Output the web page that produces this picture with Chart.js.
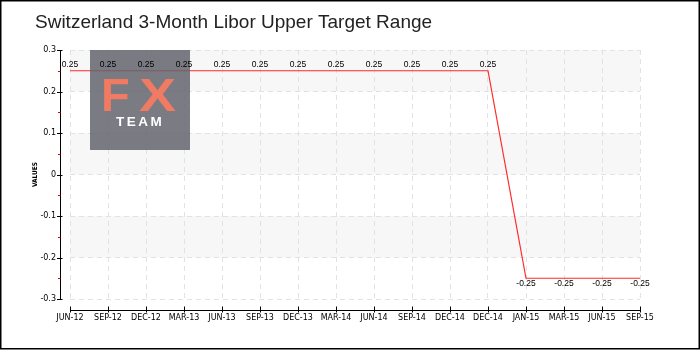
<!DOCTYPE html>
<html>
<head>
<meta charset="utf-8">
<script src="https://cdn.jsdelivr.net/npm/chart.js@4.4.1/dist/chart.umd.min.js"></script>
<style>
  html, body { margin: 0; padding: 0; background: #ffffff; }
  #wrap { width: 700px; height: 350px; position: relative; }
</style>
</head>
<body>
<div id="wrap"><canvas id="chart" width="700" height="350"></canvas></div>
<script>
// Quarterly readings of the 3-month Libor upper target range (percent)
const categories = ['JUN-12', 'SEP-12', 'DEC-12', 'MAR-13', 'JUN-13', 'SEP-13', 'DEC-13', 'MAR-14',
                    'JUN-14', 'SEP-14', 'DEC-14', 'DEC-14', 'JAN-15', 'MAR-15', 'JUN-15', 'SEP-15'];
const rateValues = [0.25, 0.25, 0.25, 0.25, 0.25, 0.25, 0.25, 0.25,
                    0.25, 0.25, 0.25, 0.25, -0.25, -0.25, -0.25, -0.25];
const yTicks = { min: -0.3, max: 0.3, step: 0.1 };

// Alternating horizontal bands and the outer frame, painted under everything
const backdrop = {
  id: 'backdrop',
  beforeDraw(chart) {
    const { ctx, chartArea: a, scales: { y } } = chart;
    ctx.save();
    const ticks = y.ticks.map(t => t.value).sort((p, q) => q - p);
    for (let i = 0; i < ticks.length - 1; i++) {
      if (i % 2 !== 0) continue;
      const top = y.getPixelForValue(ticks[i]);
      const bot = y.getPixelForValue(ticks[i + 1]);
      ctx.fillStyle = '#f7f7f7';
      ctx.fillRect(a.left, top, a.right - a.left, bot - top);
    }
    ctx.strokeStyle = '#000000';
    ctx.lineWidth = 1.5;
    ctx.strokeRect(0.75, 0.75, chart.width - 1.5, chart.height - 2);
    ctx.restore();
  }
};

// Detached axis lines with their tick marks (minor ticks in red)
const axes = {
  id: 'axes',
  afterDraw(chart) {
    const { ctx, chartArea: a, scales: { x, y } } = chart;
    ctx.save();
    ctx.lineWidth = 1;
    ctx.strokeStyle = '#000000';
    const ax = a.left - 9.5;
    ctx.beginPath();
    ctx.moveTo(ax, y.getPixelForValue(yTicks.max));
    ctx.lineTo(ax, y.getPixelForValue(yTicks.min));
    ctx.stroke();
    y.ticks.forEach(t => {
      const py = Math.round(y.getPixelForValue(t.value)) + 0.5;
      ctx.beginPath();
      ctx.moveTo(ax - 3.5, py);
      ctx.lineTo(ax + 2, py);
      ctx.stroke();
    });
    ctx.strokeStyle = '#e00000';
    for (let v = yTicks.min + yTicks.step / 2; v < yTicks.max; v += yTicks.step) {
      const py = Math.round(y.getPixelForValue(v)) + 0.5;
      ctx.beginPath();
      ctx.moveTo(ax - 2.5, py);
      ctx.lineTo(ax, py);
      ctx.stroke();
    }
    ctx.strokeStyle = '#000000';
    const ay = a.bottom + 11.5;
    ctx.beginPath();
    ctx.moveTo(x.getPixelForValue(0), ay);
    ctx.lineTo(x.getPixelForValue(categories.length - 1), ay);
    ctx.stroke();
    categories.forEach((c, i) => {
      const px = Math.round(x.getPixelForValue(i)) + 0.5;
      ctx.beginPath();
      ctx.moveTo(px, ay - 4);
      ctx.lineTo(px, ay + 2);
      ctx.stroke();
    });
    ctx.restore();
  }
};

// Brand badge and the value written at every point
const overlay = {
  id: 'overlay',
  afterDatasetsDraw(chart) {
    const { ctx, chartArea: a } = chart;
    ctx.save();
    const bx = a.left + 20, by = a.top;
    ctx.fillStyle = 'rgba(98, 98, 108, 0.84)';
    ctx.fillRect(bx, by, 100, 100);
    ctx.fillStyle = '#f07a62';
    ctx.font = 'bold 47px "Liberation Sans"';
    ctx.textBaseline = 'alphabetic';
    ctx.textAlign = 'left';
    ctx.fillText('F', bx + 11, by + 61);
    ctx.save();
    ctx.translate(bx + 49, by + 61);
    ctx.scale(1.18, 1);
    ctx.fillText('X', 0, 0);
    ctx.restore();
    ctx.fillStyle = '#ffffff';
    ctx.font = 'bold 13.5px "Liberation Sans"';
    ctx.letterSpacing = '2.5px';
    ctx.fillText('TEAM', bx + 26, by + 76);
    ctx.letterSpacing = '0px';

    const meta = chart.getDatasetMeta(0);
    ctx.fillStyle = '#000000';
    ctx.font = '8.5px "Liberation Sans"';
    ctx.textAlign = 'center';
    ctx.textBaseline = 'middle';
    meta.data.forEach((pt, i) => {
      const v = rateValues[i];
      const ty = v >= 0 ? pt.y - 6 : pt.y + 5;
      ctx.fillText(String(v), pt.x, ty);
    });
    ctx.restore();
  }
};

new Chart(document.getElementById('chart'), {
  type: 'line',
  data: {
    labels: categories,
    datasets: [{
      label: 'Values',
      data: rateValues,
      borderColor: '#ff2a2a',
      borderWidth: 1.2,
      pointRadius: 0,
      tension: 0,
      fill: false
    }]
  },
  plugins: [backdrop, axes, overlay],
  options: {
    responsive: false,
    animation: false,
    events: [],
    layout: { padding: { left: 35, right: 60, top: 0, bottom: 0 } },
    plugins: {
      legend: { display: false },
      tooltip: { enabled: false },
      title: {
        display: true,
        text: 'Switzerland 3-Month Libor Upper Target Range',
        align: 'start',
        color: '#222222',
        font: { family: '"Liberation Sans"', size: 19, weight: 'normal', lineHeight: 1.2 },
        padding: { top: 11, bottom: 16.2 }
      }
    },
    scales: {
      x: {
        type: 'category',
        offset: false,
        afterFit(s) { s.height = 51; },
        grid: { display: true, color: '#e2e2e2', lineWidth: 1, drawTicks: false },
        border: { display: false, dash: [5, 4] },
        ticks: {
          autoSkip: false,
          maxRotation: 0,
          minRotation: 0,
          padding: 14,
          color: '#000000',
          font: { family: '"DejaVu Sans"', size: 8 }
        }
      },
      y: {
        min: yTicks.min,
        max: yTicks.max,
        afterFit(s) { s.width = 35; },
        grid: { display: true, color: '#e2e2e2', lineWidth: 1, drawTicks: false },
        border: { display: false, dash: [5, 4] },
        title: {
          display: true,
          text: 'VALUES',
          color: '#000000',
          font: { family: '"DejaVu Sans Condensed", "DejaVu Sans"', size: 6.5, weight: 'bold', lineHeight: 1.2 },
          padding: { top: -3.9, bottom: 0 }
        },
        ticks: {
          stepSize: yTicks.step,
          padding: 14,
          color: '#000000',
          font: { family: '"DejaVu Sans"', size: 8 },
          callback: v => String(Number(Number(v).toFixed(1)))
        }
      }
    }
  }
});
</script>
</body>
</html>
